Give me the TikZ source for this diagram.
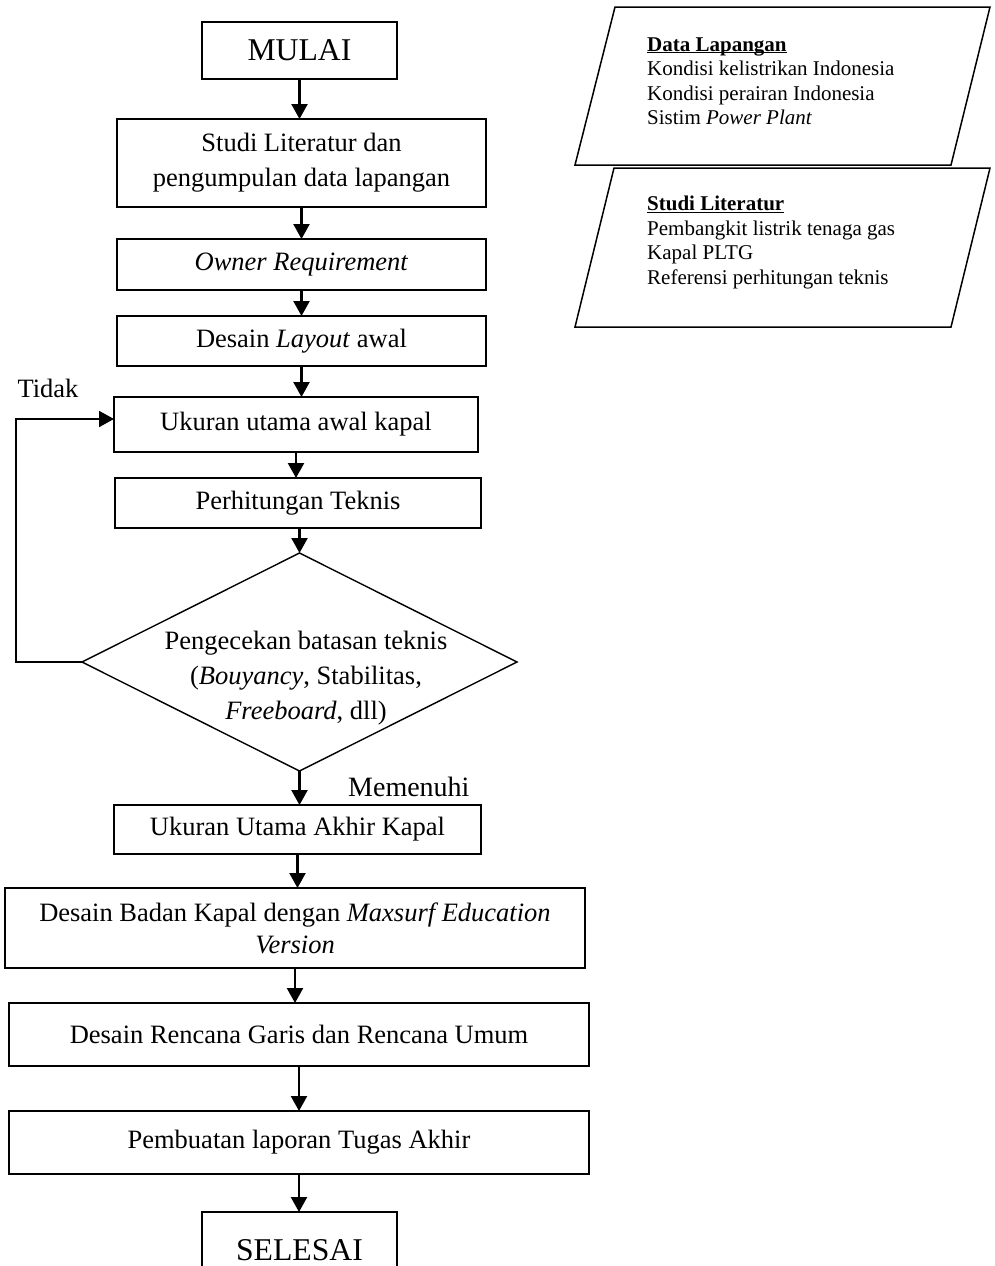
\documentclass[tikz,border=0pt]{standalone}
\usepackage{fontspec}
\setmainfont{Liberation Serif}
\usetikzlibrary{arrows.meta,shapes.geometric,calc}
\begin{document}
\begin{tikzpicture}[x=1pt,y=-1pt,
  flow/.style={draw, rectangle, inner sep=0pt, outer sep=0pt, align=center,
    font=\fontsize{26.5}{35}\selectfont, line width=2pt},
  arr/.style={-{Triangle[width=16pt,length=15pt]}, line width=2.3pt},
  lbl/.style={inner sep=0pt, font=\fontsize{26.5}{30}\selectfont},
  datatxt/.style={inner sep=0pt, anchor=west, align=left, font=\fontsize{21}{24.5}\selectfont},
  dataframe/.style={draw, line width=1.5pt, line join=miter}]
\path[use as bounding box, clip] (0,0) rectangle (994,1266);
\fill[white] (0,0) rectangle (994,1266);

% main flow
\node[flow, line width=1.2pt, minimum width=195pt, minimum height=57pt, font=\fontsize{31.7}{38}\selectfont] (mulai) at (299.5,50.5) {MULAI};
\node[flow, line width=2.2pt, minimum width=369pt, minimum height=88pt] (studi) at (301.5,163) {Studi Literatur dan\\pengumpulan data lapangan};
\node[flow, minimum width=369pt, minimum height=51pt] (owner) at (301.5,264.5) {\textit{Owner Requirement}};
\node[flow, minimum width=369pt, minimum height=50pt] (layout) at (301.5,341) {Desain \textit{Layout} awal};
\node[flow, minimum width=364pt, minimum height=55pt] (uawal) at (296,424.5) {Ukuran utama awal kapal};
\node[flow, line width=1.5pt, minimum width=366pt, minimum height=50pt] (hitung) at (298,503) {Perhitungan Teknis};
\node[draw, diamond, line width=1.4pt, minimum width=435pt, minimum height=218pt, inner sep=0pt, outer sep=0pt] (cek) at (299.5,662) {};
\node[align=center, inner sep=0pt, font=\fontsize{26.5}{35}\selectfont] (cektxt) at (306,678) {Pengecekan batasan teknis\\(\textit{Bouyancy}, Stabilitas,\\\textit{Freeboard}, dll)};
\node[flow, minimum width=367pt, minimum height=49pt] (uakhir) at (297.5,829.5) {Ukuran Utama Akhir Kapal};
\node[flow, minimum width=580pt, minimum height=80pt, font=\fontsize{26.5}{32}\selectfont] (badan) at (295,928) {Desain Badan Kapal dengan \textit{Maxsurf Education}\\\textit{Version}};
\node[flow, minimum width=580pt, minimum height=63pt] (rencana) at (299,1034.5) {Desain Rencana Garis dan Rencana Umum};
\node[flow, minimum width=580pt, minimum height=63pt] (laporan) at (299,1142.5) {Pembuatan laporan Tugas Akhir};
\node[flow, minimum width=195pt, minimum height=76pt, font=\fontsize{31.7}{38}\selectfont] (selesai) at (299.5,1250) {SELESAI};

% connectors
\draw[arr] (mulai) -- (mulai |- studi.north);
\draw[arr] (studi) -- (studi |- owner.north);
\draw[arr] (owner) -- (owner |- layout.north);
\draw[arr] (layout) -- (layout |- uawal.north);
\draw[arr] (uawal) -- (uawal |- hitung.north);
\draw[arr] (hitung.south -| cek.north) -- (cek.north);
\draw[arr] (cek.south) -- (cek.south |- uakhir.north);
\draw[arr] (uakhir) -- (uakhir |- badan.north);
\draw[arr] (badan) -- (badan |- rencana.north);
\draw[arr] (rencana) -- (rencana |- laporan.north);
\draw[arr] (laporan) -- (laporan |- selesai.north);

% loop back
\coordinate (lpa) at (16,662);
\coordinate (lpb) at (16,419);
\draw[arr, line width=1.8pt] (cek.west) -- (lpa) -- (lpb) -- (lpb -| uawal.west);

% labels
\node[lbl] (tidak) at (48,388) {Tidak};
\node[lbl, anchor=west, font=\fontsize{28}{30}\selectfont] (memenuhi) at (348,787) {Memenuhi};

% data boxes
\coordinate (da1) at (615,7);   \coordinate (da2) at (990,7);
\coordinate (da3) at (951,165); \coordinate (da4) at (575,165);
\draw[dataframe] (da1) -- (da2) -- (da3) -- (da4) -- cycle;
\node[datatxt] (datalap) at (647,88) {\underline{\smash{\textbf{Data Lapangan}}}\\Kondisi kelistrikan Indonesia\\Kondisi perairan Indonesia\\Sistim \textit{Power Plant}};

\coordinate (db1) at (614,168); \coordinate (db2) at (990,168);
\coordinate (db3) at (951,327); \coordinate (db4) at (575,327);
\draw[dataframe] (db1) -- (db2) -- (db3) -- (db4) -- cycle;
\node[datatxt] (studlit) at (647,250) {\underline{\smash{\textbf{Studi Literatur}}}\\Pembangkit listrik tenaga gas\\Kapal PLTG\\Referensi perhitungan teknis};
\end{tikzpicture}
\end{document}
